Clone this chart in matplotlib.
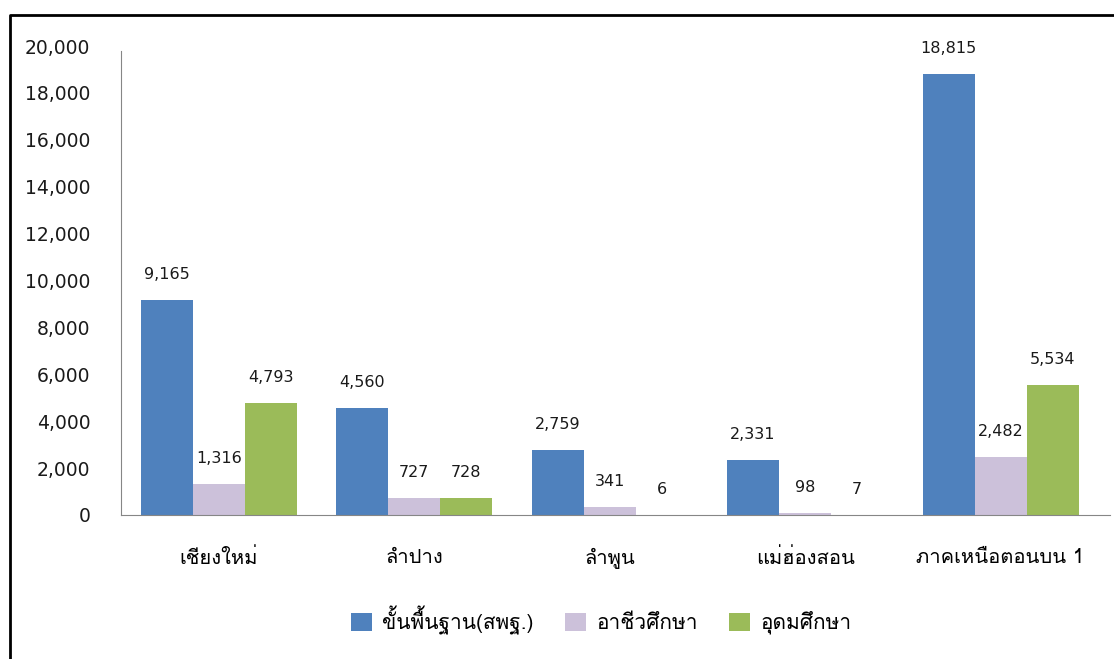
import matplotlib
matplotlib.use("Agg")
import matplotlib.pyplot as plt
from matplotlib import font_manager
from matplotlib.ft2font import FT2Font
import numpy as np

# ข้อมูล
provinces = ["เชียงใหม่", "ลำปาง", "ลำพูน", "แม่ฮ่องสอน", "ภาคเหนือตอนบน 1"]
series_names = ["ขั้นพื้นฐาน(สพฐ.)", "อาชีวศึกษา", "อุดมศึกษา"]
basic = [9165, 4560, 2759, 2331, 18815]
vocational = [1316, 727, 341, 98, 2482]
higher = [4793, 728, 6, 7, 5534]
colors = ["#4F81BD", "#CCC1DA", "#9BBB59"]


# หาฟอนต์ที่มีตัวอักษรไทย
def find_thai_font():
    for f in font_manager.fontManager.ttflist:
        try:
            if FT2Font(f.fname).get_char_index(ord("ก")) != 0:
                return f.name
        except Exception:
            pass
    return None


thai = find_thai_font()
fams = ([thai] if thai else []) + ["DejaVu Sans"]
plt.rcParams["font.family"] = fams

fig = plt.figure(figsize=(11.14, 6.59), dpi=100)
ax = fig.add_axes([121 / 1114, 1 - 515 / 659, (1110 - 121) / 1114, (515 - 46) / 659])

x = np.arange(len(provinces))
w = 0.266
data = [basic, vocational, higher]
for i, vals in enumerate(data):
    bars = ax.bar(x + (i - 1) * w, vals, w, color=colors[i], label=series_names[i])
    ax.bar_label(bars, labels=[f"{v:,}" for v in vals], padding=13,
                 fontsize=11.5, color="#1a1a1a", family="DejaVu Sans")

ax.set_xlim(-0.5, 4.56)
ax.set_ylim(0, 20000)
ax.set_yticks(np.arange(0, 20001, 2000))
ax.set_yticklabels([f"{v:,}" for v in range(0, 20001, 2000)], fontsize=13.5,
                   family="DejaVu Sans", color="#1a1a1a")
ax.set_xticks(x)
ax.set_xticklabels(provinces, fontsize=14.5)
ax.tick_params(axis="y", length=0, pad=22)
ax.tick_params(axis="x", length=0, pad=24)
for s in ["top", "right"]:
    ax.spines[s].set_visible(False)
ax.spines["left"].set_color("#868686")
ax.spines["bottom"].set_color("#868686")
ax.spines["left"].set_bounds(0, 19800)

fig.legend(loc="center", bbox_to_anchor=(601 / 1114, 1 - 620 / 659), ncol=3, frameon=False,
           fontsize=15, handlelength=1.0, handleheight=1.0, handletextpad=0.5, columnspacing=1.5)

# กรอบด้านซ้าย/บน
fig.add_artist(plt.Line2D([10 / 1114, 10 / 1114, 1.0], [0.0, 1 - 15 / 659, 1 - 15 / 659],
                          transform=fig.transFigure, color="black", lw=2))

fig.savefig("out.png", dpi=100)
